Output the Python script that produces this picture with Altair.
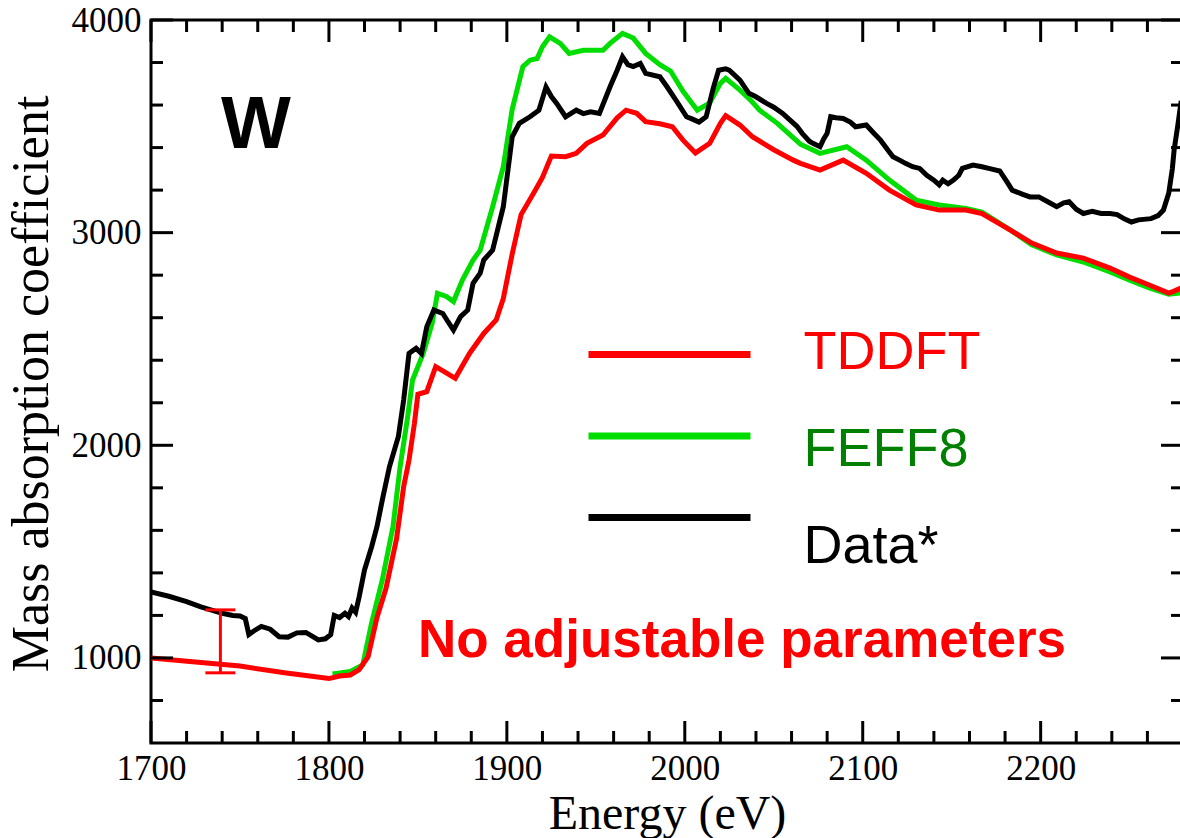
import altair as alt
import pandas as pd

# ---------------- data ----------------
energy_tddft = [1700, 1725, 1750, 1775, 1800, 1806, 1812, 1817, 1822, 1827, 1832, 1838,
                1842, 1845, 1848, 1850, 1855, 1860, 1865, 1871, 1879, 1887, 1894, 1898,
                1903, 1908, 1915, 1920, 1925, 1933, 1939, 1945, 1954, 1962, 1967, 1973,
                1978, 1986, 1993, 1999, 2006, 2014, 2020, 2023, 2031, 2038, 2050, 2061,
                2065, 2076, 2089, 2102, 2115, 2130, 2143, 2158, 2167, 2183, 2195, 2209,
                2224, 2239, 2250, 2261, 2272, 2275, 2280]
mu_tddft = [1000, 981, 962, 930, 903, 915, 920, 945, 1006, 1190, 1325, 1560,
            1805, 1931, 2100, 2240, 2252, 2370, 2345, 2315, 2432, 2526, 2589, 2690,
            2900, 3085, 3185, 3260, 3360, 3357, 3373, 3420, 3459, 3540, 3576, 3561,
            3522, 3512, 3498, 3435, 3375, 3420, 3514, 3550, 3506, 3451, 3390, 3341,
            3326, 3294, 3341, 3279, 3200, 3130, 3106, 3106, 3090, 3012, 2951, 2904,
            2880, 2833, 2791, 2754, 2716, 2725, 2744]

energy_feff = [1802, 1807, 1812, 1819, 1824, 1830, 1836, 1840, 1844, 1847, 1853, 1858,
               1861, 1866, 1870, 1875, 1881, 1885, 1892, 1898, 1903, 1909, 1913, 1917,
               1920, 1924, 1930, 1935, 1943, 1954, 1958, 1965, 1971, 1978, 1986, 1992,
               1999, 2007, 2014, 2020, 2023, 2031, 2037, 2042, 2052, 2065, 2076, 2091,
               2102, 2115, 2130, 2143, 2158, 2167, 2183, 2195, 2209, 2224, 2239, 2250,
               2261, 2272, 2280]
mu_feff = [925, 930, 936, 967, 1165, 1367, 1617, 1899, 2119, 2307, 2432, 2573,
           2715, 2700, 2676, 2777, 2871, 2918, 3122, 3310, 3580, 3781, 3811, 3819,
           3874, 3921, 3890, 3843, 3858, 3858, 3890, 3937, 3915, 3843, 3790, 3760,
           3665, 3576, 3610, 3702, 3726, 3670, 3623, 3576, 3514, 3416, 3373, 3404,
           3341, 3247, 3153, 3130, 3114, 3097, 3012, 2943, 2895, 2862, 2815, 2777,
           2740, 2710, 2718]

energy_data = [1700, 1710, 1720, 1728, 1735, 1740, 1746, 1750, 1753, 1755, 1758, 1762,
               1767, 1772, 1777, 1782, 1787, 1791, 1794, 1798, 1801, 1803, 1806, 1809,
               1811, 1813, 1815, 1817, 1820, 1824, 1827, 1830, 1834, 1839, 1842, 1845,
               1849, 1852, 1855, 1859, 1864, 1867, 1870, 1874, 1878, 1881, 1885, 1887,
               1892, 1898, 1903, 1907, 1913, 1918, 1922, 1925, 1928, 1933, 1939, 1943,
               1947, 1952, 1958, 1962, 1965, 1968, 1971, 1975, 1978, 1986, 1990, 1995,
               2001, 2004, 2008, 2012, 2016, 2019, 2023, 2025, 2031, 2036, 2040, 2046,
               2050, 2055, 2059, 2063, 2066, 2070, 2072, 2076, 2078, 2080, 2082, 2085,
               2089, 2093, 2096, 2102, 2106, 2110, 2114, 2117, 2121, 2124, 2128, 2132,
               2136, 2140, 2143, 2145, 2148, 2151, 2154, 2156, 2162, 2167, 2172, 2177,
               2181, 2184, 2190, 2194, 2199, 2204, 2209, 2213, 2216, 2220, 2224, 2229,
               2234, 2239, 2243, 2247, 2251, 2255, 2262, 2266, 2269, 2272, 2274, 2275,
               2277, 2279]
mu_data = [1310, 1290, 1265, 1240, 1222, 1210, 1200, 1197, 1185, 1110, 1128, 1148,
           1135, 1100, 1098, 1118, 1120, 1100, 1085, 1090, 1110, 1200, 1190, 1210,
           1195, 1235, 1215, 1288, 1414, 1523, 1617, 1743, 1899, 2040, 2213, 2432,
           2456, 2432, 2558, 2636, 2620, 2580, 2542, 2605, 2636, 2762, 2809, 2871,
           2918, 3122, 3451, 3514, 3545, 3576, 3685, 3640, 3608, 3545, 3576, 3560,
           3568, 3561, 3686, 3764, 3827, 3790, 3781, 3796, 3749, 3733, 3686, 3623,
           3545, 3535, 3520, 3545, 3680, 3764, 3770, 3764, 3717, 3655, 3639, 3608,
           3590, 3561, 3530, 3500, 3467, 3430, 3420, 3404, 3440, 3467, 3545, 3540,
           3537, 3520, 3498, 3506, 3470, 3435, 3390, 3357, 3340, 3326, 3310, 3302,
           3270, 3247, 3225, 3247, 3230, 3247, 3270, 3302, 3318, 3310, 3300, 3290,
           3240, 3200, 3180, 3168, 3168, 3145, 3122, 3140, 3145, 3110, 3090, 3100,
           3090, 3090, 3085, 3065, 3050, 3060, 3066, 3080, 3106, 3186, 3300, 3388,
           3500, 3620]

error_energy = [1739]
error_low = [930]
error_high = [1226]

x_major = [1700, 1800, 1900, 2000, 2100, 2200]
x_minor = [1720, 1740, 1760, 1780, 1820, 1840, 1860, 1880, 1920, 1940, 1960, 1980,
           2020, 2040, 2060, 2080, 2120, 2140, 2160, 2180, 2220, 2240, 2260]
y_major = [1000, 2000, 3000, 4000]
y_minor = [800, 1200, 1400, 1600, 1800, 2200, 2400, 2600, 2800, 3200, 3400, 3600, 3800]

series_names = ["TDDFT", "FEFF8", "Data*"]
line_colors = ["#ff0000", "#00dd00", "#000000"]
label_colors = ["#ff0000", "#008000", "#000000"]

# ---------------- layout constants ----------------
W, H = 1032, 723
SERIF = "Liberation Serif"
SANS = "Liberation Sans"

xscale = alt.Scale(domain=[1700, 2280], nice=False, zero=False)
yscale = alt.Scale(domain=[600, 4000], nice=False, zero=False)

df_t = pd.DataFrame({"E": energy_tddft, "mu": mu_tddft})
df_f = pd.DataFrame({"E": energy_feff, "mu": mu_feff})
df_d = pd.DataFrame({"E": energy_data, "mu": mu_data})

x_axis = alt.Axis(values=x_major, format="d", labelFont=SERIF, labelFontSize=35,
                  labelColor="black", ticks=False, tickSize=0, domain=False, grid=False,
                  labelFlush=False, labelOverlap=False, labelBound=False,
                  labelPadding=8, title="Energy (eV)", titleFont=SERIF,
                  titleFontSize=48, titleFontWeight="normal", titleColor="black",
                  titleY=85, titleBaseline="alphabetic")
y_axis = alt.Axis(values=y_major, format="d", labelFont=SERIF, labelFontSize=35,
                  labelColor="black", ticks=False, tickSize=0, domain=False, grid=False,
                  labelFlush=False, labelOverlap=False, labelBound=False,
                  labelPadding=10, title="Mass absorption coefficient", titleFont=SERIF,
                  titleFontSize=52, titleFontWeight="normal", titleColor="black",
                  titleAngle=-90, titleX=-104, titleY=H / 2 + 2, titleAlign="center",
                  titleBaseline="alphabetic")


def X(field):
    return alt.X(field, scale=xscale, axis=x_axis)


def Y(field):
    return alt.Y(field, scale=yscale, axis=y_axis)


def curve(df, color):
    return alt.Chart(df).mark_line(color=color, strokeWidth=5, clip=True).encode(
        x=X("E:Q"), y=Y("mu:Q"))


layers = [
    curve(df_f, line_colors[1]),
    curve(df_t, line_colors[0]),
    curve(df_d, line_colors[2]),
]


# ---- inward ticks on all four sides ----
def xticks(vals, length):
    d = pd.DataFrame({"E": vals})
    base = alt.Chart(d).mark_rule(color="black", strokeWidth=3)
    bottom = base.encode(x=X("E:Q"), y=alt.value(H), y2=alt.value(H - length))
    top = base.encode(x=X("E:Q"), y=alt.value(0), y2=alt.value(length))
    return [bottom, top]


def yticks(vals, length):
    d = pd.DataFrame({"mu": vals})
    base = alt.Chart(d).mark_rule(color="black", strokeWidth=3)
    left = base.encode(y=Y("mu:Q"), x=alt.value(0), x2=alt.value(length))
    right = base.encode(y=Y("mu:Q"), x=alt.value(W), x2=alt.value(W - length))
    return [left, right]


layers += xticks(x_major, 22) + xticks(x_minor, 12)
layers += yticks(y_major, 22) + yticks(y_minor, 12)

# ---- error bar ----
df_err = pd.DataFrame({"E": error_energy, "mu": error_low, "mu2": error_high})
err_base = alt.Chart(df_err)
layers.append(err_base.mark_rule(color="#ff0000", strokeWidth=3, opacity=1).encode(
    x=X("E:Q"), y=Y("mu:Q"), y2="mu2:Q"))
for fld in ["mu", "mu2"]:
    layers.append(err_base.mark_tick(color="#ff0000", orient="horizontal", size=30,
                                     thickness=3, opacity=1).encode(
        x=X("E:Q"), y=alt.Y(f"{fld}:Q", scale=yscale, axis=y_axis)))

# ---- manual legend ----
dummy = pd.DataFrame({"k": [0]})
legend_line_y = [334.5, 416, 497.5]
legend_text_y = [348.5, 446, 542.5]
for name, lc, tc, ly, ty in zip(series_names, line_colors, label_colors,
                                legend_line_y, legend_text_y):
    layers.append(alt.Chart(dummy).mark_rule(color=lc, strokeWidth=7).encode(
        x=alt.value(437.5), x2=alt.value(599.5), y=alt.value(ly)))
    layers.append(alt.Chart(dummy).mark_text(
        font=SANS, fontSize=54, color=tc, align="left", baseline="alphabetic").encode(
        x=alt.value(652.5), y=alt.value(ty), text=alt.value(name)))

# ---- annotations ----
layers.append(alt.Chart(dummy).mark_text(
    font=SANS, fontSize=74, fontWeight="bold", color="black", align="left",
    baseline="alphabetic").encode(x=alt.value(70), y=alt.value(128), text=alt.value("W")))
layers.append(alt.Chart(dummy).mark_text(
    font=SANS, fontSize=53, fontWeight="bold", color="#ff0000",
    align="left", baseline="alphabetic").encode(
    x=alt.value(267), y=alt.value(637), text=alt.value("No adjustable parameters")))

chart = alt.layer(*layers).properties(
    width=W, height=H,
    autosize=alt.AutoSizeParams(type="none"),
    padding={"left": 151, "top": 20, "right": -3, "bottom": 95},
    background="white",
).configure_view(stroke="black", strokeWidth=3)

chart.save("out.html", embed_options={"renderer": "svg", "actions": False})
